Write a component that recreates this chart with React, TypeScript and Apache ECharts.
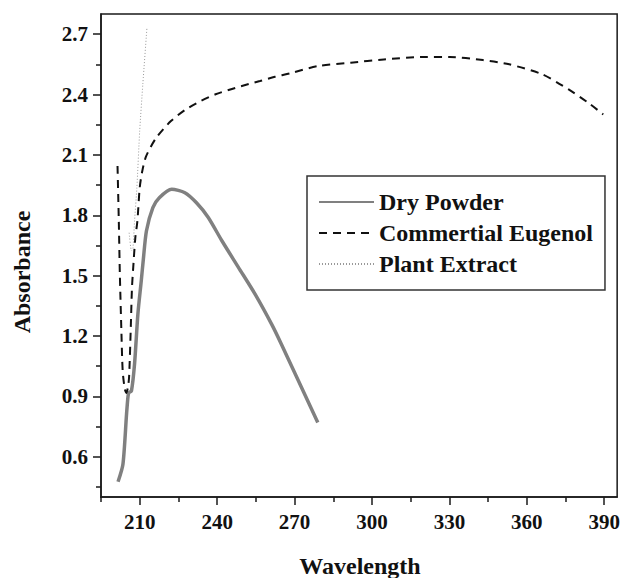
import React, { useEffect, useRef } from "react";
import * as echarts from "echarts";

// Dry Powder
const dryX = [201.6, 203.5, 204.9, 205.5, 205.9, 206.8, 208.0, 209.3, 210.6, 211.4, 212.6, 215.1, 217.6, 222.4, 227.5, 232.0, 236.5, 241.9, 248.3, 254.7, 261.1, 264.9, 279.0];
const dryY = [0.476, 0.563, 0.812, 0.903, 0.92, 0.927, 1.061, 1.31, 1.474, 1.58, 1.722, 1.838, 1.887, 1.929, 1.912, 1.862, 1.79, 1.672, 1.54, 1.408, 1.259, 1.159, 0.77];

// Commertial Eugenol
const eugX = [201.4, 201.9, 202.3, 202.9, 203.4, 204.2, 204.8, 205.5, 205.9, 206.5, 207.0, 207.4, 208.3, 209.1, 210.0, 211.0, 212.5, 216.4, 222.1, 227.9, 233.6, 239.4, 245.1, 250.9, 256.6, 262.4, 268.2, 279.0, 291.8, 304.6, 319.9, 330.1, 343.0, 353.2, 366.0, 376.2, 383.8, 389.6];
const eugY = [2.045, 1.771, 1.508, 1.225, 1.027, 0.937, 0.917, 0.95, 1.0, 1.225, 1.44, 1.523, 1.689, 1.771, 1.937, 2.02, 2.094, 2.185, 2.268, 2.326, 2.367, 2.401, 2.425, 2.447, 2.467, 2.488, 2.505, 2.541, 2.558, 2.574, 2.586, 2.586, 2.571, 2.55, 2.5, 2.425, 2.359, 2.301];

// Plant Extract
const plantX = [205.9, 206.8, 207.4, 208.0, 208.9, 210.0, 211.2, 212.8];
const plantY = [1.713, 1.623, 1.639, 1.771, 1.937, 2.22, 2.45, 2.731];

const xMajor = [210, 240, 270, 300, 330, 360, 390];
const xMinor = [195, 225, 255, 285, 315, 345, 375];
const yMajor = [0.6, 0.9, 1.2, 1.5, 1.8, 2.1, 2.4, 2.7];
const yMinor = [0.45, 0.75, 1.05, 1.35, 1.65, 1.95, 2.25, 2.55];

const zip = (xs: number[], ys: number[]) => xs.map((x, i) => [x, ys[i]]);

const FONT = "'Liberation Serif', 'Times New Roman', serif";

export default function App() {
  const ref = useRef<HTMLDivElement>(null);
  useEffect(() => {
    if (!ref.current) return;
    const chart = echarts.init(ref.current, undefined, { renderer: "svg" });
    const axisLine = { show: true, lineStyle: { color: "#1a1a1a", width: 1.5 } };
    const labelStyle = { fontFamily: FONT, fontWeight: "bold" as const, fontSize: 21, color: "#111" };
    chart.setOption({
      animation: false,
      backgroundColor: "#ffffff",
      grid: {
        left: 101,
        right: 5,
        top: 14,
        bottom: 81,
        show: true,
        borderColor: "#1a1a1a",
        borderWidth: 1.5,
        backgroundColor: "transparent",
      },
      xAxis: [
        {
          type: "value",
          min: 195,
          max: 395,
          position: "bottom",
          axisLine,
          splitLine: { show: false },
          axisTick: { show: true, inside: false, length: 8, customValues: xMajor, lineStyle: { color: "#1a1a1a", width: 1.5 } },
          axisLabel: { ...labelStyle, margin: 14, customValues: xMajor, formatter: (v: number) => String(Math.round(v)) },
        },
        {
          type: "value",
          min: 195,
          max: 395,
          position: "bottom",
          axisLine: { show: false },
          splitLine: { show: false },
          axisTick: { show: true, inside: false, length: 5, customValues: xMinor, lineStyle: { color: "#1a1a1a", width: 1.5 } },
          axisLabel: { show: false },
        },
      ],
      yAxis: [
        {
          type: "value",
          min: 0.4,
          max: 2.8,
          position: "left",
          axisLine,
          splitLine: { show: false },
          axisTick: { show: true, inside: false, length: 8, customValues: yMajor, lineStyle: { color: "#1a1a1a", width: 1.5 } },
          axisLabel: { ...labelStyle, margin: 13, customValues: yMajor, formatter: (v: number) => v.toFixed(1) },
        },
        {
          type: "value",
          min: 0.4,
          max: 2.8,
          position: "left",
          axisLine: { show: false },
          splitLine: { show: false },
          axisTick: { show: true, inside: false, length: 5, customValues: yMinor, lineStyle: { color: "#1a1a1a", width: 1.5 } },
          axisLabel: { show: false },
        },
      ],
      legend: {
        orient: "vertical",
        left: 307,
        top: 176,
        padding: [14, 12, 14, 11],
        itemWidth: 55,
        itemHeight: 14,
        itemGap: 7,
        borderColor: "#333",
        borderWidth: 1.5,
        borderRadius: 0,
        itemStyle: { opacity: 0 },
        textStyle: { fontFamily: FONT, fontWeight: "bold", fontSize: 24, color: "#111" },
        data: ["Dry Powder", "Commertial Eugenol", "Plant Extract"],
      },
      graphic: [
        {
          type: "text",
          x: 360,
          y: 566,
          style: { text: "Wavelength", fontFamily: FONT, fontWeight: "bold", fontSize: 24, fill: "#111", textAlign: "center", textVerticalAlign: "middle" },
        },
        {
          type: "text",
          x: 22,
          y: 272,
          rotation: Math.PI / 2,
          style: { text: "Absorbance", fontFamily: FONT, fontWeight: "bold", fontSize: 24, fill: "#111", textAlign: "center", textVerticalAlign: "middle" },
        },
      ],
      series: [
        {
          name: "Dry Powder",
          type: "line",
          data: zip(dryX, dryY),
          showSymbol: false,
          symbol: "none",
          smooth: 0.25,
          lineStyle: { color: "#808080", width: 3.5, type: "solid" },
          itemStyle: { color: "#808080" },
        },
        {
          name: "Commertial Eugenol",
          type: "line",
          data: zip(eugX, eugY),
          showSymbol: false,
          symbol: "none",
          smooth: 0.25,
          lineStyle: { color: "#111", width: 2, type: [8, 6] },
          itemStyle: { color: "#111" },
        },
        {
          name: "Plant Extract",
          type: "line",
          data: zip(plantX, plantY),
          showSymbol: false,
          symbol: "none",
          smooth: 0.2,
          lineStyle: { color: "#999", width: 1, type: [1, 2] },
          itemStyle: { color: "#999" },
        },
      ],
    });
    return () => chart.dispose();
  }, []);
  return <div ref={ref} style={{ position: "fixed", left: 0, top: 0, width: 623, height: 578 }} />;
}
